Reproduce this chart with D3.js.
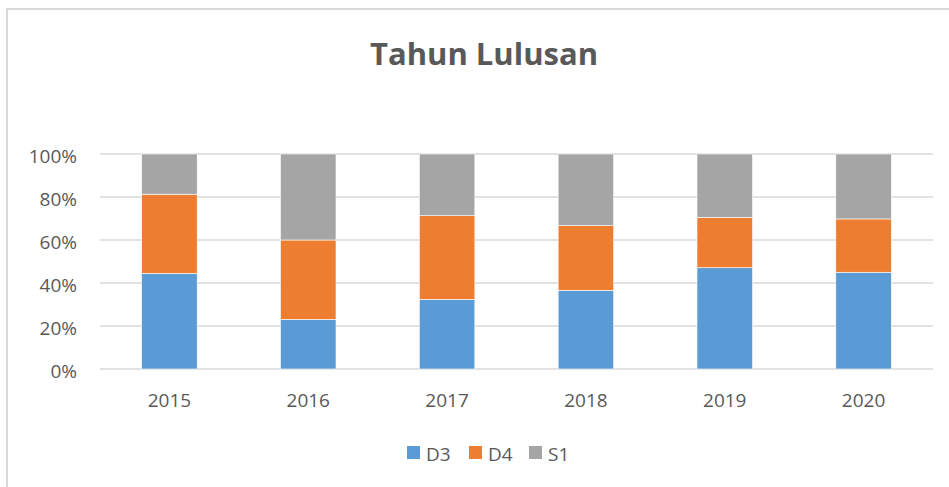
<!DOCTYPE html>
<html><head><meta charset="utf-8">
<script src="https://cdn.jsdelivr.net/npm/d3@7"></script>
<style>body{margin:0;background:#fff;}svg{display:block;font-family:"Open Sans",Lato,sans-serif;}</style>
</head><body><svg id="c" width="949" height="487"></svg>
<script>
const title = "Tahun Lulusan";
const categories = ["2015","2016","2017","2018","2019","2020"];
const seriesNames = ["D3","D4","S1"];
const D3v = [44.5, 23.1, 32.4, 36.6, 47.1, 45.0];
const D4v = [36.8, 36.9, 38.9, 30.1, 23.4, 24.8];
const S1v = [18.7, 40.0, 28.7, 33.3, 29.5, 30.2];
const yTicks = [0, 0.2, 0.4, 0.6, 0.8, 1.0];
const colors = ["#5B9BD5","#ED7D31","#A5A5A5"];

const svg = d3.select("#c");
const FF = "'Open Sans',Lato,sans-serif";
// chart border
svg.append("rect").attr("x",7).attr("y",9).attr("width",960).attr("height",500)
  .attr("fill","none").attr("stroke","#d9d9d9").attr("stroke-width",2);

const rows = categories.map((c,i)=>{
  const t = D3v[i]+D4v[i]+S1v[i];
  return {cat:c, D3:D3v[i]/t, D4:D4v[i]/t, S1:S1v[i]/t};
});
const stack = d3.stack().keys(seriesNames)(rows);

const x = d3.scaleBand().domain(categories).range([100,933]).paddingInner(0.6).paddingOuter(0.3);
const y = d3.scaleLinear().domain([0,1]).range([369,154]);

// gridlines
svg.append("g").selectAll("line").data(yTicks).join("line")
  .attr("x1",100).attr("x2",933).attr("y1",d=>y(d)).attr("y2",d=>y(d))
  .attr("stroke","#d9d9d9").attr("stroke-width",1.5);

// bars
svg.append("g").selectAll("g").data(stack).join("g")
  .attr("fill",(d,i)=>colors[i])
  .selectAll("rect").data(d=>d).join("rect")
  .attr("x",d=>x(d.data.cat)).attr("width",x.bandwidth())
  .attr("y",d=>y(d[1])).attr("height",d=>y(d[0])-y(d[1]))
  .attr("stroke","#ffffff").attr("stroke-width",0.6);

// y axis labels
const yAxis = d3.axisLeft(y).tickValues(yTicks).tickFormat(d3.format(".0%")).tickSize(0).tickPadding(0);
const ya = svg.append("g").attr("transform","translate(77,2)").call(yAxis);
ya.select(".domain").remove();
ya.selectAll("text").attr("fill","#595959").style("font-size","19px").attr("font-family",FF);

// x axis labels
const xAxis = d3.axisBottom(x).tickSize(0).tickPadding(0);
const xa = svg.append("g").attr("transform","translate(0,393)").call(xAxis);
xa.select(".domain").remove();
xa.selectAll("text").attr("fill","#595959").style("font-size","19px").attr("font-family",FF);

// title
svg.append("text").attr("x",484).attr("y",65).attr("text-anchor","middle")
  .attr("fill","#595959").style("font-size","31px").style("font-weight","bold").text(title);

// legend
const legX = [407, 469, 529];
const lg = svg.append("g").selectAll("g").data(seriesNames).join("g")
  .attr("transform",(d,i)=>`translate(${legX[i]},446)`);
lg.append("rect").attr("width",13).attr("height",13).attr("fill",(d,i)=>colors[i]);
lg.append("text").attr("x",19).attr("y",14.5).attr("fill","#595959").style("font-size","19px").text(d=>d);
</script></body></html>
